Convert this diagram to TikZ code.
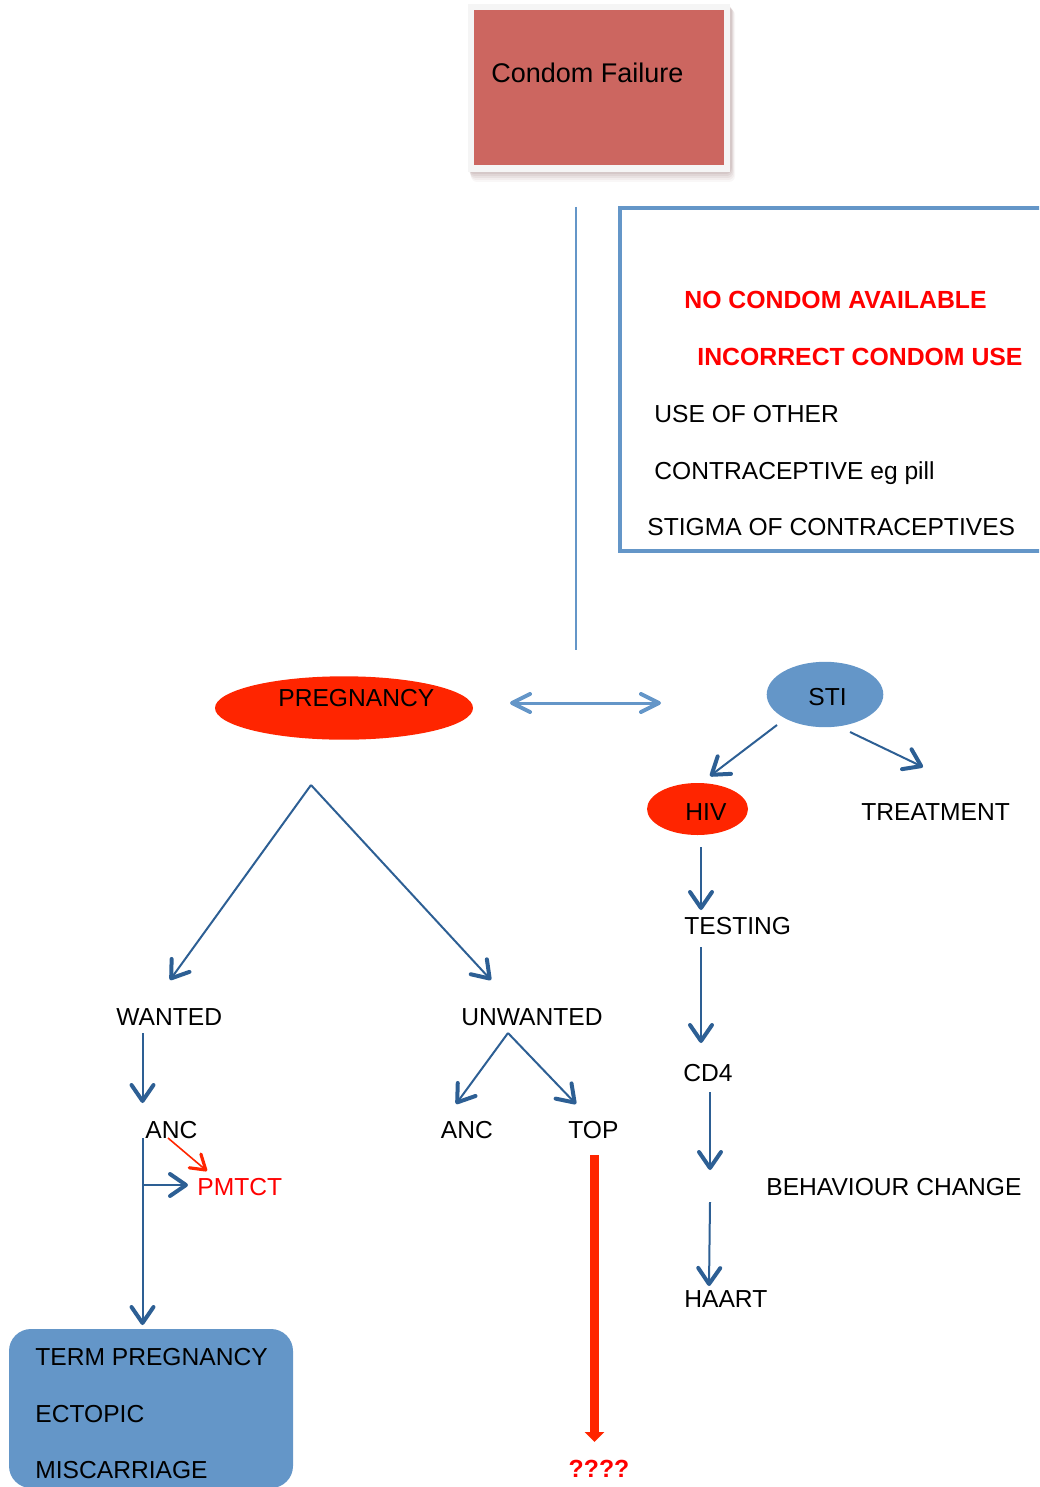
\documentclass[tikz,border=0pt]{standalone}
\usepackage{fontspec}
\setmainfont{Liberation Sans}
\usetikzlibrary{arrows.meta,shapes.geometric}
\definecolor{dblue}{HTML}{2D5F94}
\definecolor{lblue}{HTML}{6496C8}
\definecolor{bred}{HTML}{FF2500}
\definecolor{tred}{HTML}{FF0000}
\definecolor{cfill}{HTML}{CC6660}
\definecolor{shad}{HTML}{9A7A7A}
\begin{document}
\begin{tikzpicture}[x=0.5pt,y=-0.5pt,
  txt/.style={anchor=base west, inner sep=0pt, font=\fontsize{12.3}{14}\selectfont},
  redtxt/.style={txt, text=tred},
  boldred/.style={txt, text=tred, font=\fontsize{12.4}{14}\selectfont\bfseries},
  darrow/.style={draw=dblue, line width=1pt, -{Straight Barb[length=8pt,width=11pt,line width=2pt,round]}},
  rarrow/.style={draw=bred, line width=0.8pt, -{Straight Barb[length=7pt,width=9pt,line width=1.6pt,round]}},
  larrow/.style={draw=lblue, line width=1.5pt, {Straight Barb[length=9pt,width=9pt,line width=2pt,round]}-{Straight Barb[length=9pt,width=9pt,line width=2pt,round]}},
  blob/.style={ellipse, inner sep=0pt}
]
\useasboundingbox (0,0) rectangle (1039,1487);
\clip (0,0) rectangle (1039,1487);

% Condom Failure box with soft shadow
\foreach \d/\o in {10/0.06,8/0.08,6/0.10,4/0.12,2/0.14}{
  \fill[shad, opacity=\o, rounded corners=3pt] (468+\d*0.3,4+\d*0.5) rectangle (731+\d*0.4,172+\d);
}
\fill[gray!8] (468,4) rectangle (730,172);
\node[rectangle, fill=cfill, minimum width=125pt, minimum height=77.5pt, inner sep=0pt] (cf) at (599,87.5) {};
\node[txt, font=\fontsize{13.5}{16}\selectfont] (cft) at (491,83) {Condom Failure};

% vertical light line
\coordinate (v1) at (576,207);
\coordinate (v2) at (576,650);
\draw[lblue, line width=0.6pt] (v1) -- (v2);

% causes box
\draw[lblue, line width=2pt] (1060,208) -- (620,208) -- (620,551) -- (1060,551);
\node[boldred] (c1) at (684,308) {NO CONDOM AVAILABLE};
\node[boldred] (c2) at (697,365) {INCORRECT CONDOM USE};
\node[txt] (c3) at (654,422) {USE OF OTHER};
\node[txt] (c4) at (654,479) {CONTRACEPTIVE eg pill};
\node[txt] (c5) at (647,535) {STIGMA OF CONTRACEPTIVES};

% Pregnancy
\node[blob, fill=bred, minimum width=129pt, minimum height=31.7pt] (preg) at (344,708) {};
\node[txt] (pregt) at (278,706) {PREGNANCY};

% double arrow
\coordinate (d1) at (510,703);
\coordinate (d2) at (661,703);
\draw[larrow] (d1) -- (d2);

% STI
\node[blob, fill=lblue, minimum width=58.3pt, minimum height=32.7pt] (sti) at (825,694.5) {};
\node[txt] (stit) at (808,705) {STI};
\node[blob, fill=bred, minimum width=50.5pt, minimum height=26pt] (hiv) at (697.5,809) {};
\node[txt] (hivt) at (685,820) {HIV};
\node[txt] (treat) at (861,820) {TREATMENT};
\coordinate (s1) at (777,725);
\coordinate (s1e) at (710,776);
\coordinate (s2) at (850,732);
\coordinate (s2e) at (923,767);
\draw[darrow] (s1) -- (s1e);
\draw[darrow] (s2) -- (s2e);

% HIV column
\node[txt] (testing) at (684,934) {TESTING};
\node[txt] (cd4) at (683,1081) {CD4};
\node[txt] (beh) at (766,1195) {BEHAVIOUR CHANGE};
\node[txt] (haart) at (684,1307) {HAART};
\coordinate (h1) at (701,847);
\coordinate (h1e) at (701,910);
\coordinate (h2) at (701,947);
\coordinate (h2e) at (701,1043);
\coordinate (h3) at (710,1092);
\coordinate (h3e) at (710,1170);
\coordinate (h4) at (710,1202);
\coordinate (h4e) at (709,1286);
\draw[darrow] (h1) -- (h1e);
\draw[darrow] (h2) -- (h2e);
\draw[darrow] (h3) -- (h3e);
\draw[darrow] (h4) -- (h4e);

% Pregnancy branches
\coordinate (apex) at (311,785);
\coordinate (wtip) at (170,980);
\coordinate (utip) at (491,980);
\draw[darrow] (apex) -- (wtip);
\draw[darrow] (apex) -- (utip);
\node[txt] (wanted) at (116,1025) {WANTED};
\node[txt] (unwanted) at (461,1025) {UNWANTED};

% Wanted column
\coordinate (w1) at (142.5,1033);
\coordinate (w1e) at (142.5,1103);
\draw[darrow] (w1) -- (w1e);
\node[txt] (anc1) at (145,1138) {ANC};
\coordinate (w2) at (142.5,1138);
\coordinate (w2e) at (142.5,1325);
\coordinate (wb) at (142.5,1185);
\coordinate (wbe) at (188,1185);
\draw[darrow] (w2) -- (w2e);
\draw[darrow] (wb) -- (wbe);
\coordinate (r1) at (168,1138);
\coordinate (r1e) at (207,1171);
\draw[rarrow] (r1) -- (r1e);
\node[redtxt] (pmtct) at (197,1195) {PMTCT};

% outcome box
\fill[lblue, rounded corners=11pt] (9,1329) rectangle (293,1488);
\node[txt] (o1) at (35,1365) {TERM PREGNANCY};
\node[txt] (o2) at (35,1422) {ECTOPIC};
\node[txt] (o3) at (35,1478) {MISCARRIAGE};

% Unwanted branches
\coordinate (uapex) at (508,1033);
\coordinate (ul) at (456,1104);
\coordinate (ur) at (576,1104);
\draw[darrow] (uapex) -- (ul);
\draw[darrow] (uapex) -- (ur);
\node[txt] (anc2) at (440.5,1138) {ANC};
\node[txt] (top) at (568,1138) {TOP};

% red thick arrow
\coordinate (t1) at (594.5,1155);
\coordinate (t1e) at (594.5,1442);
\draw[bred, line width=4.5pt, -{Triangle[length=5pt,width=9.5pt]}] (t1) -- (t1e);
\node[anchor=base, inner sep=0pt, text=tred, font=\fontsize{12.4}{14}\selectfont\bfseries] (q) at (599,1477) {????};
\end{tikzpicture}
\end{document}
